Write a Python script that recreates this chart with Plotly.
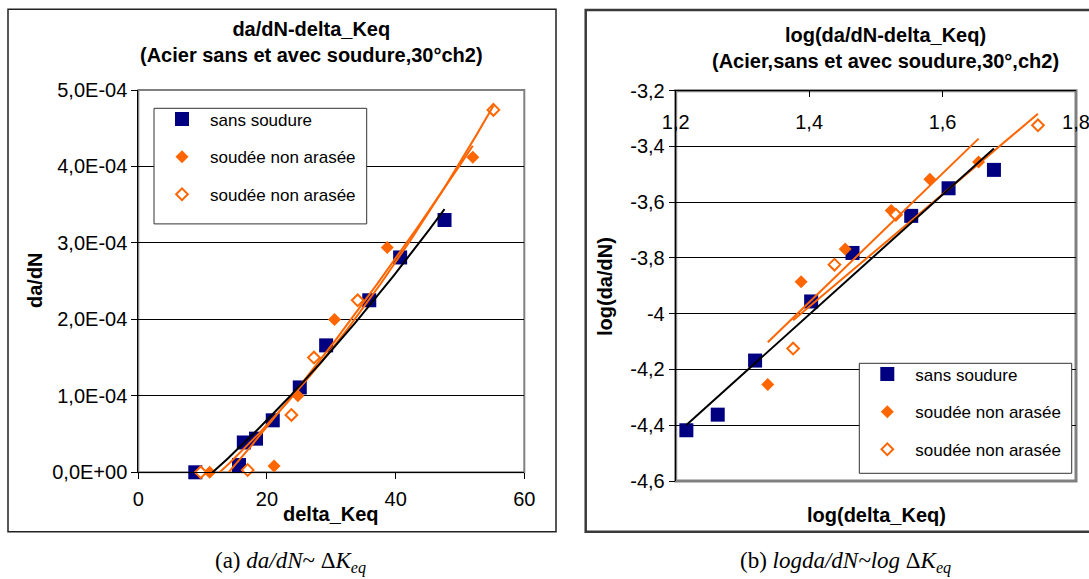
import numpy as np
import plotly.graph_objects as go

# ---------------- data ----------------
# (a) da/dN vs delta_Keq
dk_sans = [8.86, 15.65, 16.4, 18.3, 20.9, 25.1, 29.2, 35.9, 40.7, 47.6]
dadn_sans = [0.0, 0.95e-5, 3.9e-5, 4.4e-5, 6.8e-5, 1.11e-4, 1.66e-4, 2.25e-4, 2.81e-4, 3.30e-4]
dk_full = [11.1, 21.1, 24.8, 30.5, 38.7, 52.0]
dadn_full = [0.0, 8.2e-6, 1.0e-4, 2.0e-4, 2.94e-4, 4.12e-4]
dk_open = [9.7, 17.0, 23.8, 27.3, 34.1, 55.2]
dadn_open = [0.0, 3e-6, 7.5e-5, 1.5e-4, 2.25e-4, 4.74e-4]

# (b) log(da/dN) vs log(delta_Keq)
lk_sans = [1.216, 1.263, 1.319, 1.403, 1.465, 1.553, 1.609, 1.677]
lda_sans = [-4.418, -4.362, -4.168, -3.956, -3.782, -3.649, -3.550, -3.484]
lk_full = [1.338, 1.388, 1.454, 1.523, 1.581, 1.654]
lda_full = [-4.254, -3.885, -3.768, -3.630, -3.518, -3.456]
lk_open = [1.376, 1.438, 1.530, 1.743]
lda_open = [-4.125, -3.824, -3.645, -3.324]

series_names = ["sans soudure", "soudée non arasée", "soudée non arasée"]

# tick labels
a_xticks = [0, 20, 40, 60]
a_yticks = [0, 1e-4, 2e-4, 3e-4, 4e-4, 5e-4]
a_ytext = ["0,0E+00", "1,0E-04", "2,0E-04", "3,0E-04", "4,0E-04", "5,0E-04"]
b_xticks = [1.2, 1.4, 1.6, 1.8]
b_xtext = ["1,2", "1,4", "1,6", "1,8"]
b_yticks = [-4.6, -4.4, -4.2, -4.0, -3.8, -3.6, -3.4, -3.2]
b_ytext = ["-4,6", "-4,4", "-4,2", "-4", "-3,8", "-3,6", "-3,4", "-3,2"]

# ---------------- style ----------------
W, H = 1089, 579
NAVY = "#000080"
ORANGE = "#FF6600"
SANS = "Liberation Sans, Arial, sans-serif"
SERIF = "Liberation Serif, Times New Roman, serif"


def px(x):
    return x / W


def py(y):
    return 1 - y / H


fig = go.Figure()

mk_sans = dict(symbol="square", size=14, color=NAVY)
mk_full = dict(symbol="diamond", size=10, color=ORANGE)
mk_open = dict(symbol="diamond", size=9, color="white", line=dict(color=ORANGE, width=2))

# --- chart (a) markers
for xs, ys, mk, nm, g in [(dk_sans, dadn_sans, mk_sans, series_names[0], "a1"),
                          (dk_full, dadn_full, mk_full, series_names[1], "a2"),
                          (dk_open, dadn_open, mk_open, series_names[2], "a3")]:
    fig.add_trace(go.Scatter(x=xs, y=ys, mode="markers", marker=mk, name=nm,
                             legendgroup=g, legend="legend", cliponaxis=False,
                             xaxis="x", yaxis="y"))

# --- chart (a) polynomial (order 2) trendlines
for xs, ys, col in [(dk_full, dadn_full, ORANGE), (dk_open, dadn_open, ORANGE), (dk_sans, dadn_sans, "black")]:
    c = np.polyfit(xs, ys, 2)
    xx = np.linspace(min(xs), max(xs), 200)
    fig.add_trace(go.Scatter(x=xx, y=np.polyval(c, xx), mode="lines",
                             line=dict(color=col, width=2), showlegend=False,
                             hoverinfo="skip", xaxis="x", yaxis="y"))

# --- chart (b) markers
for xs, ys, mk, nm, g in [(lk_sans, lda_sans, mk_sans, series_names[0], "b1"),
                          (lk_full, lda_full, mk_full, series_names[1], "b2"),
                          (lk_open, lda_open, mk_open, series_names[2], "b3")]:
    fig.add_trace(go.Scatter(x=xs, y=ys, mode="markers", marker=mk, name=nm,
                             legendgroup=g, legend="legend2", cliponaxis=False,
                             xaxis="x2", yaxis="y2"))

# --- chart (b) linear trendlines
for xs, ys, col in [(lk_full, lda_full, ORANGE), (lk_open, lda_open, ORANGE), (lk_sans, lda_sans, "black")]:
    c = np.polyfit(xs, ys, 1)
    xx = np.array([min(xs), max(xs)])
    fig.add_trace(go.Scatter(x=xx, y=np.polyval(c, xx), mode="lines",
                             line=dict(color=col, width=2), showlegend=False,
                             hoverinfo="skip", xaxis="x2", yaxis="y2"))

# empty trace carrying the label-only axis of chart (b)
fig.add_trace(go.Scatter(x=[], y=[], mode="markers", showlegend=False,
                         hoverinfo="skip", xaxis="x3", yaxis="y2"))

tickfont = dict(family=SANS, size=20, color="black")
legfont = dict(family=SANS, size=17, color="black")

# plot areas (pixels)
A = dict(x0=138.3, x1=524.3, y0=90.0, y1=472.3)
B = dict(x0=675.7, x1=1076.0, y0=90.7, y1=481.0)

fig.update_layout(
    width=W, height=H, autosize=False,
    margin=dict(l=0, r=0, t=0, b=0, pad=0, autoexpand=False),
    paper_bgcolor="white", plot_bgcolor="white",
    font=dict(family=SANS, size=18, color="black"),
    xaxis=dict(domain=[px(A["x0"]), px(A["x1"])], anchor="y", range=[0, 60],
               tickvals=a_xticks, ticks="outside", ticklen=6, tickcolor="black",
               showline=True, linecolor="black", linewidth=1, showgrid=False,
               zeroline=False, tickfont=tickfont, ticklabelstandoff=3),
    yaxis=dict(domain=[py(A["y1"]), py(A["y0"])], anchor="x", range=[0, 5e-4],
               tickvals=a_yticks, ticktext=a_ytext, ticks="outside", ticklen=6,
               tickcolor="black", showline=True, linecolor="black", linewidth=1,
               showgrid=True, gridcolor="black", gridwidth=1, zeroline=False,
               tickfont=tickfont),
    xaxis2=dict(domain=[px(B["x0"]), px(B["x1"])], anchor="y2", side="top",
                range=[1.2, 1.8], tickvals=b_xticks, showticklabels=False,
                ticks="inside", ticklen=6, tickcolor="black",
                showline=True, linecolor="black",
                linewidth=1, showgrid=False, zeroline=False),
    xaxis3=dict(domain=[px(B["x0"]), px(B["x1"])], anchor="free", overlaying="x2",
                position=py(108), side="bottom", range=[1.2, 1.8],
                tickvals=b_xticks, ticktext=b_xtext, ticks="", showline=False,
                showgrid=False, zeroline=False, tickfont=tickfont,
                ticklabeloverflow="allow"),
    yaxis2=dict(domain=[py(B["y1"]), py(B["y0"])], anchor="x2", range=[-4.6, -3.2],
                tickvals=b_yticks, ticktext=b_ytext, ticks="outside", ticklen=6,
                tickcolor="black", showline=True, linecolor="black", linewidth=1,
                showgrid=True, gridcolor="black", gridwidth=1, zeroline=False,
                tickfont=tickfont),
    legend=dict(x=px(154), y=py(101.5), xanchor="left", yanchor="top",
                bgcolor="rgba(0,0,0,0)", borderwidth=0,
                font=legfont, traceorder="grouped", tracegroupgap=12.5, itemwidth=46),
    legend2=dict(x=px(859.3), y=py(356.5), xanchor="left", yanchor="top",
                 bgcolor="rgba(0,0,0,0)", borderwidth=0,
                 font=legfont, traceorder="grouped", tracegroupgap=12.5, itemwidth=46),
    showlegend=True,
)

shapes = [
    # outer chart frames
    dict(type="rect", x0=px(8), x1=px(556), y0=py(531.7), y1=py(9.3),
         line=dict(color="#222222", width=1.5), layer="below"),
    dict(type="rect", x0=px(585.7), x1=px(1100), y0=py(531.7), y1=py(10),
         line=dict(color="#3a3a3a", width=2.5), layer="below"),
    # plot-area grey borders
    dict(type="rect", x0=px(A["x0"]), x1=px(A["x1"]), y0=py(A["y1"]), y1=py(A["y0"]),
         line=dict(color="#808080", width=2), layer="below"),
    dict(type="rect", x0=px(B["x0"]), x1=px(B["x1"]), y0=py(B["y1"]), y1=py(B["y0"]),
         line=dict(color="#808080", width=3), layer="below"),
    # legend frames
    dict(type="rect", x0=px(154), x1=px(366.7), y0=py(223.9), y1=py(108.3),
         line=dict(color="#333333", width=1), fillcolor="white", layer="above"),
    dict(type="rect", x0=px(859.3), x1=px(1071.7), y0=py(473.3), y1=py(363.3),
         line=dict(color="#333333", width=1), fillcolor="white", layer="above"),
]
for s in shapes:
    s.update(xref="paper", yref="paper")
fig.update_layout(shapes=shapes)

bold = dict(family=SANS, size=20, color="black")
ann = [
    dict(text="<b>da/dN-delta_Keq<br>(Acier sans et avec soudure,30°ch2)</b>",
         x=px(311), y=py(42), xanchor="center", yanchor="middle", font=bold),
    dict(text="<b>log(da/dN-delta_Keq)<br>(Acier,sans et avec soudure,30°,ch2)</b>",
         x=px(885), y=py(47.5), xanchor="center", yanchor="middle", font=bold),
    dict(text="<b>delta_Keq</b>", x=px(331.3), y=py(514), xanchor="center", yanchor="middle", font=bold),
    dict(text="<b>da/dN</b>", x=px(35), y=py(280), xanchor="center", yanchor="middle",
         textangle=-90, font=bold),
    dict(text="<b>log(delta_Keq)</b>", x=px(876.5), y=py(515), xanchor="center", yanchor="middle", font=bold),
    dict(text="<b>log(da/dN)</b>", x=px(605), y=py(287), xanchor="center", yanchor="middle",
         textangle=-90, font=bold),
    dict(text="(a) <i>da/dN</i>~ Δ<i>K<sub>eq</sub></i>", x=px(290), y=py(562),
         xanchor="center", yanchor="middle", font=dict(family=SERIF, size=23, color="black")),
    dict(text="(b) <i>logda/dN~log</i> Δ<i>K<sub>eq</sub></i>", x=px(845), y=py(562),
         xanchor="center", yanchor="middle", font=dict(family=SERIF, size=23, color="black")),
]
for a in ann:
    a.update(xref="paper", yref="paper", showarrow=False)
fig.update_layout(annotations=ann)

fig.write_html("out.html", config={"displayModeBar": False},
               post_script="document.body.style.margin='0';")
